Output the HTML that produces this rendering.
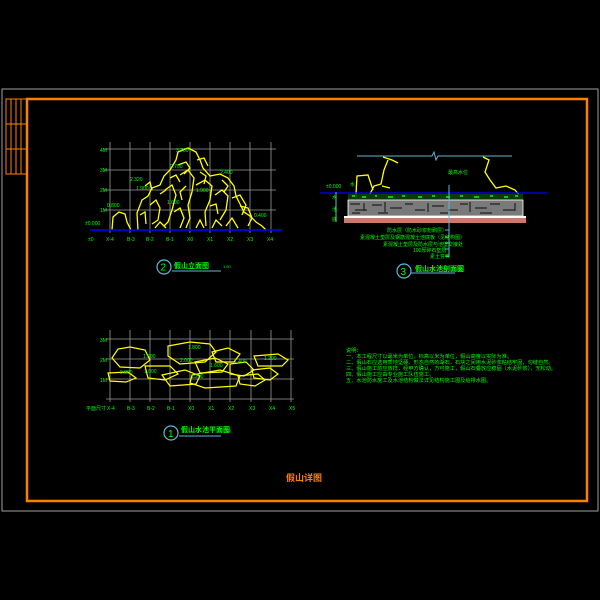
<!DOCTYPE html>
<html><head><meta charset="utf-8"><style>
html,body{margin:0;padding:0;background:#000;}
svg{display:block}
text{font-family:"Liberation Sans","Noto Sans CJK SC",sans-serif;}
</style></head><body>
<svg width="600" height="600" viewBox="0 0 600 600" xmlns="http://www.w3.org/2000/svg">
<rect width="600" height="600" fill="#000"/>
<rect x="2" y="89" width="596" height="422" fill="none" stroke="#c8c8c8" stroke-width="0.8"/>
<rect x="27" y="99" width="560" height="402" fill="none" stroke="#ff8000" stroke-width="2.5"/>
<g stroke="#ff8000" stroke-width="1" fill="none">
<rect x="6" y="99" width="21" height="75"/>
<line x1="11" y1="99" x2="11" y2="174"/><line x1="16" y1="99" x2="16" y2="174"/><line x1="21" y1="99" x2="21" y2="174"/>
<line x1="6" y1="124" x2="27" y2="124"/><line x1="6" y1="149" x2="27" y2="149"/>
</g>

<g stroke="#9a9a9a" stroke-width="0.8">
<line x1="110" y1="142" x2="110" y2="233"/><line x1="130" y1="142" x2="130" y2="233"/><line x1="150" y1="142" x2="150" y2="233"/><line x1="170" y1="142" x2="170" y2="233"/><line x1="190" y1="142" x2="190" y2="233"/><line x1="210" y1="142" x2="210" y2="233"/><line x1="230" y1="142" x2="230" y2="233"/><line x1="250" y1="142" x2="250" y2="233"/><line x1="271" y1="142" x2="271" y2="233"/>
<line x1="104" y1="149" x2="276" y2="149"/><line x1="104" y1="170" x2="276" y2="170"/><line x1="104" y1="190" x2="276" y2="190"/><line x1="104" y1="210" x2="276" y2="210"/>
</g>
<g fill="none" stroke="#ffff00" stroke-width="1.3">
<path d="M112,230 L113,217 L119,212 L125,214 L127,222 L131,230"/>
<path d="M138,230 L137,213 L142,200 L148,196 L152,188 L160,185 L164,176 L170,170 L176,160 L178,152 L188,148 L196,152 L200,160 L203,168 L210,176 L220,174 L228,178 L234,186 L236,196 L240,204 L244,212 L250,216 L256,222 L262,226 L266,230"/>
<path d="M150,205 L156,200 L160,208 L158,220 L152,224"/>
<path d="M165,190 L172,185 L176,195 L172,210 L168,222 L164,226"/>
<path d="M180,175 L188,170 L194,178 L192,192 L188,205 L190,218 L186,228"/>
<path d="M196,185 L205,180 L212,186 L210,200 L205,212 L206,226"/>
<path d="M215,195 L222,190 L228,196 L226,210 L220,220"/>
<path d="M232,198 L240,195 L246,205 L242,215"/>
<path d="M174,212 L180,208 L184,218 L180,228"/>
<path d="M140,215 L145,212 L146,224"/>
<path d="M197,160 L204,158 L208,166"/>
<path d="M178,165 L186,162 L190,168 L184,174 M160,194 L166,190 M170,178 L176,175 L180,182 M200,172 L206,176 L204,184 M222,180 L228,186 L224,192 M240,206 L248,208 L252,218 L248,226 M155,228 L160,222 L166,228 M196,228 L200,220 L204,228 M212,228 L216,220 L222,226 M226,226 L232,218 L238,228"/>
<path d="M145,186 L150,182 L152,190 M210,206 L216,204 L218,214 M186,186 L180,192 L182,200"/>
</g>
<line x1="90" y1="230" x2="282" y2="230" stroke="#0000ff" stroke-width="1.5"/>
<g fill="#00ff00" font-size="5">
<text x="100" y="152">4M</text><text x="100" y="172">3M</text><text x="100" y="192">2M</text><text x="100" y="212">1M</text>
<text x="88" y="241">±0</text><text x="106" y="241">X-4</text><text x="127" y="241">B-3</text><text x="146" y="241">B-2</text><text x="166" y="241">B-1</text><text x="187" y="241">X0</text><text x="207" y="241">X1</text><text x="227" y="241">X2</text><text x="247" y="241">X3</text><text x="267" y="241">X4</text>
<text x="176" y="152">3.700</text><text x="170" y="168">2.700</text><text x="130" y="181">2.320</text><text x="136" y="190">1.900</text><text x="220" y="174">2.400</text><text x="196" y="192">1.900</text><text x="167" y="204">1.000</text><text x="107" y="207">0.800</text><text x="254" y="217">0.400</text><text x="85" y="225">±0.000</text>
</g>
<circle cx="164" cy="267" r="7" fill="none" stroke="#5fb7d4" stroke-width="1.2"/>
<text x="160.5" y="270.5" fill="#00ff00" font-size="10">2</text>
<text x="174" y="268" fill="#00ff00" font-size="7" font-weight="bold">假山立面图</text>
<text x="223" y="268" fill="#00ff00" font-size="4">1:50</text>
<line x1="172" y1="271" x2="221" y2="271" stroke="#5fb7d4" stroke-width="1"/>

<g stroke="#9a9a9a" stroke-width="0.8">
<line x1="110" y1="330" x2="110" y2="402"/><line x1="130" y1="330" x2="130" y2="402"/><line x1="150" y1="330" x2="150" y2="402"/><line x1="170" y1="330" x2="170" y2="402"/><line x1="190" y1="330" x2="190" y2="402"/><line x1="210" y1="330" x2="210" y2="402"/><line x1="230" y1="330" x2="230" y2="402"/><line x1="251" y1="330" x2="251" y2="402"/><line x1="271" y1="330" x2="271" y2="402"/><line x1="291" y1="330" x2="291" y2="402"/>
<line x1="106" y1="339" x2="294" y2="339"/><line x1="106" y1="359" x2="294" y2="359"/><line x1="106" y1="379" x2="294" y2="379"/><line x1="106" y1="399" x2="294" y2="399"/>
</g>
<g fill="none" stroke="#ffff00" stroke-width="1.2">
<path d="M130,347 L145,350 L150,360 L140,368 L120,367 L112,358 L118,349 Z"/>
<path d="M108,373 L128,372 L136,378 L126,382 L110,381 Z"/>
<path d="M145,366 L170,366 L178,374 L165,380 L148,378 Z"/>
<path d="M168,346 L190,342 L210,344 L216,352 L205,362 L180,364 L168,356 Z"/>
<path d="M162,375 L185,370 L200,376 L196,384 L170,386 Z"/>
<path d="M192,375 L220,370 L240,376 L236,386 L205,388 L190,383 Z"/>
<path d="M195,362 L215,358 L228,364 L222,372 L200,373 Z"/>
<path d="M212,352 L228,348 L240,354 L234,362 L216,362 Z"/>
<path d="M230,364 L246,362 L254,370 L244,376 L230,374 Z"/>
<path d="M238,376 L258,374 L265,380 L255,386 L240,384 Z"/>
<path d="M254,356 L278,354 L288,360 L282,366 L258,366 Z"/>
<path d="M252,370 L270,368 L278,374 L270,380 L254,378 Z"/>
</g>
<g fill="#00ff00" font-size="5">
<text x="100" y="342">3M</text><text x="100" y="362">2M</text><text x="100" y="382">1M</text>
<text x="86" y="410">平面尺寸</text><text x="107" y="410">X-4</text><text x="127" y="410">B-3</text><text x="147" y="410">B-2</text><text x="167" y="410">B-1</text><text x="188" y="410">X0</text><text x="208" y="410">X1</text><text x="228" y="410">X2</text><text x="249" y="410">X3</text><text x="269" y="410">X4</text><text x="289" y="410">X5</text>
<text x="188" y="349">1.800</text><text x="143" y="358">1.500</text><text x="180" y="362">2.000</text><text x="210" y="367">1.600</text><text x="234" y="363">1.400</text><text x="264" y="360">1.200</text><text x="120" y="374">0.800</text><text x="144" y="373">1.000</text><text x="191" y="378">1.200</text>
</g>
<circle cx="171" cy="433" r="7" fill="none" stroke="#5fb7d4" stroke-width="1.2"/>
<text x="168" y="437" fill="#00ff00" font-size="10">1</text>
<text x="181" y="432" fill="#00ff00" font-size="7" font-weight="bold">假山水池平面图</text>
<text x="223" y="432" fill="#00ff00" font-size="4">1:50</text>
<line x1="179" y1="436" x2="221" y2="436" stroke="#5fb7d4" stroke-width="1"/>

<polyline points="357,156 432,156 434,152 436,160 438,156 512,156" fill="none" stroke="#5fb7d4" stroke-width="1"/>
<g fill="none" stroke="#ffff00" stroke-width="1.3">
<path d="M383,157 L392,160 L398,163 M388,160 L384,170 L381,184 L374,186 L370,194 M382,186 L390,188"/>
<path d="M356,194 L357,176 L368,175 L373,190"/>
<path d="M483,157 L489,160 L485,172 L490,180 L496,188 L506,186 L515,190 L520,196"/>
</g>
<line x1="320" y1="193" x2="547" y2="193" stroke="#0000ff" stroke-width="1.2"/>
<rect x="348" y="194" width="175" height="6" fill="#0a3a0a"/>
<g fill="#00cc00">
<rect x="352" y="195" width="3" height="2"/><rect x="362" y="196" width="4" height="2"/><rect x="375" y="195" width="2" height="2"/><rect x="388" y="196" width="5" height="2"/><rect x="402" y="195" width="3" height="2"/><rect x="418" y="196" width="4" height="2"/><rect x="432" y="195" width="3" height="2"/><rect x="446" y="196" width="4" height="2"/><rect x="460" y="195" width="3" height="2"/><rect x="474" y="196" width="5" height="2"/><rect x="490" y="195" width="3" height="2"/><rect x="504" y="196" width="4" height="2"/><rect x="515" y="195" width="3" height="2"/>
</g>
<rect x="348" y="200" width="175" height="16" fill="#7a7a7a" stroke="#fff" stroke-width="0.8"/>
<g stroke="#222" stroke-width="1.2" fill="none">
<path d="M350,204 h10 M364,203 v8 M355,210 h12 M372,205 h10 M385,202 v10 M390,208 h12 M405,204 h8 M415,210 h10 M428,203 v9 M432,206 h12 M448,210 h10 M460,204 h8 M470,202 v10 M475,208 h12 M490,204 h10 M503,210 h12 M515,203 v8 M352,213 h8 M378,213 h10 M440,213 h8 M480,213 h12"/>
</g>
<rect x="344" y="216" width="182" height="2" fill="#fff"/>
<rect x="344" y="218" width="182" height="5" fill="#c87a6a"/>
<line x1="449" y1="185" x2="449" y2="257" stroke="#5fb7d4" stroke-width="1"/>
<g stroke="#5fb7d4" stroke-width="1"><line x1="445" y1="230" x2="449" y2="230"/><line x1="445" y1="237" x2="449" y2="237"/><line x1="445" y1="243" x2="449" y2="243"/><line x1="445" y1="249" x2="449" y2="249"/><line x1="445" y1="256" x2="449" y2="256"/></g>
<line x1="336" y1="192" x2="336" y2="222" stroke="#5fb7d4" stroke-width="1"/>
<g fill="#00ff00" font-size="5">
<text x="326" y="188">±0.000</text><text x="350" y="186">水</text><text x="448" y="174">最高水位</text>
<text x="332" y="199">水</text><text x="332" y="211">池</text><text x="332" y="221">底</text>
<text x="387" y="232">防水层（防水砂浆粉刷层）</text>
<text x="360" y="239">素混凝土垫层及钢筋混凝土池底板（见结构图）</text>
<text x="383" y="246">素混凝土垫层及防水层与池壁交接处</text>
<text x="413" y="252">100厚碎石垫层</text>
<text x="430" y="258">素土夯实</text>
</g>
<circle cx="404" cy="271" r="7" fill="none" stroke="#5fb7d4" stroke-width="1.2"/>
<text x="400.5" y="275" fill="#00ff00" font-size="10">3</text>
<text x="415" y="271" fill="#00ff00" font-size="7" font-weight="bold">假山水池剖面图</text>
<text x="455" y="271" fill="#00ff00" font-size="4">1:50</text>
<line x1="411" y1="273" x2="455" y2="273" stroke="#5fb7d4" stroke-width="1"/>

<g fill="#00ff00" font-size="5.2">
<text x="346" y="352">说明：</text>
<text x="346" y="358">一、本工程尺寸以毫米为单位，标高以米为单位，假山高度以实际为准。</text>
<text x="346" y="364">二、假山石应选用质地坚硬、形态自然的湖石，石块之间用水泥砂浆粘结牢固，勾缝自然。</text>
<text x="346" y="370">三、假山施工前应放样，经甲方确认，方可施工，假山石叠放应稳固（水泥砂浆），无松动。</text>
<text x="346" y="376">四、假山施工应由专业施工队伍施工。</text>
<text x="346" y="382">五、水池防水施工及水池结构做法详见结构施工图及给排水图。</text>
</g>
<text x="286" y="481" fill="#ff8000" font-size="9" font-weight="bold">假山详图</text>
</svg>
</body></html>
